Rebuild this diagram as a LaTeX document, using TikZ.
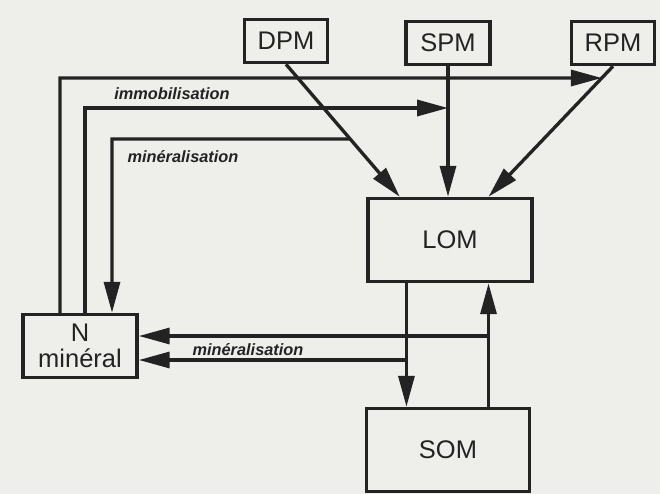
\documentclass[tikz,border=0pt]{standalone}
\usepackage{fontspec}
\setmainfont{Liberation Sans}
\usetikzlibrary{arrows.meta,calc}
\definecolor{paper}{RGB}{238,238,235}
\definecolor{ink}{RGB}{35,35,35}
\begin{document}
\begin{tikzpicture}[x=0.02cm,y=-0.02cm,
flux/.style={draw=ink,line width=1.9pt,-{Triangle[length=0.62cm,width=0.32cm]}},
lab/.style={font=\fontsize{9.3}{11}\selectfont\bfseries\itshape,text=ink,inner sep=0pt}]
\tikzstyle{box}=[draw=ink,line width=2pt,rectangle,inner sep=0pt,text=ink,
  font=\fontsize{14.5}{15}\selectfont,align=center]

\useasboundingbox[fill=paper] (0,0) rectangle (660,494);

\node[box,minimum width=1.66cm,minimum height=0.86cm] (DPM) at (286,41) {DPM};
\node[box,minimum width=1.68cm,minimum height=0.86cm] (SPM) at (448,43) {SPM};
\node[box,minimum width=1.66cm,minimum height=0.86cm] (RPM) at (613,43) {RPM};
\node[box,minimum width=3.28cm,minimum height=1.66cm] (LOM) at (450,240) {LOM};
\node[box,minimum width=3.26cm,minimum height=1.66cm] (SOM) at (448,450) {SOM};
\node[box,minimum width=2.28cm,minimum height=1.26cm] (N) at (80,346) {N\\minéral};

\coordinate (dIn) at ($(LOM.north west)!0.2!(LOM.north east)$);
\coordinate (rIn) at ($(LOM.north west)!0.73!(LOM.north east)$);
\coordinate (lOut) at ($(LOM.south west)!0.24!(LOM.south east)$);
\coordinate (sIn) at ($(LOM.south west)!0.73!(LOM.south east)$);

\draw[flux] (DPM.south) -- (dIn);
\draw[flux] (SPM.south) -- (SPM.south |- LOM.north);
\draw[flux] (RPM.south) -- (rIn);

\coordinate (imm1) at (60,78);
\coordinate (imm1r) at (imm1 -| RPM.south);
\coordinate (imm2) at (85,108);
\coordinate (min1) at (112,139);
\coordinate (min1r) at (min1 -| DPM.south);

\draw[flux] (N.north -| imm1) -- (imm1) -- (intersection of imm1--imm1r and RPM.south--rIn);
\draw[flux] (N.north -| imm2) -- (imm2) -- (imm2 -| SPM.south);
\draw[flux] (intersection of min1--min1r and DPM.south--dIn) -- (min1) -- (N.north -| min1);

\node[lab] (immo) at (172,94) {immobilisation};
\node[lab] (mine1) at (183,157) {minéralisation};

\draw[flux] (lOut) -- (lOut |- SOM.north);
\draw[flux] (SOM.north -| sIn) -- (sIn);

\coordinate (mA) at (0,336);
\coordinate (mB) at (0,360);
\draw[flux] (sIn |- mA) -- (N.east |- mA);
\draw[flux] (lOut |- mB) -- (N.east |- mB);

\node[lab] (mine2) at (248,350) {minéralisation};
\end{tikzpicture}
\end{document}
